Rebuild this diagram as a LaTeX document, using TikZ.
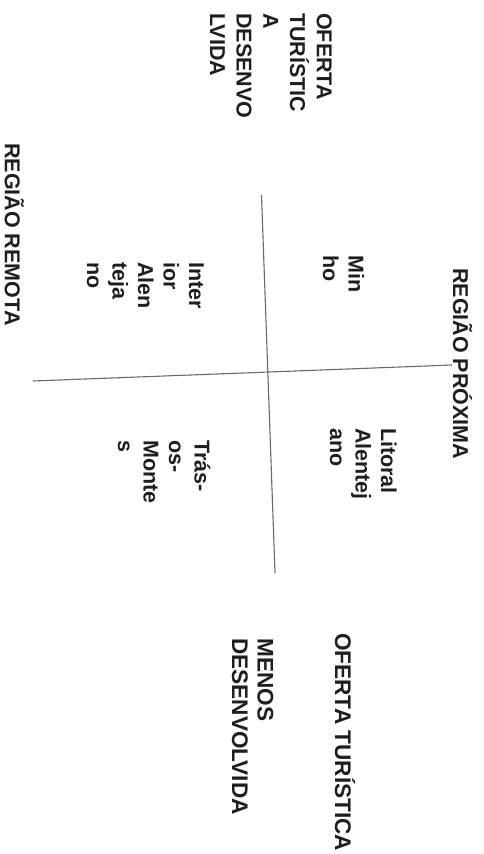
\documentclass[tikz,border=0pt]{standalone}
\usepackage{fontspec}
\setmainfont{Liberation Sans}
\definecolor{inkgray}{RGB}{30,30,30}
\definecolor{axisgray}{RGB}{105,105,105}
\usetikzlibrary{positioning}

\begin{document}
\begin{tikzpicture}[x=1pt, y=-1pt,
  quadtext/.style={rotate=-90, anchor=base west, inner sep=0pt, text=inkgray,
    font=\bfseries\fontsize{21.5}{25.5}\selectfont, align=left},
  axisline/.style={draw=axisgray, line width=1.1pt}]
  \useasboundingbox (0,0) rectangle (484,854);

  % axes of the matrix
  \coordinate (vtop) at (261.5,195);
  \coordinate (vbot) at (275,573);
  \coordinate (hleft) at (33,381);
  \coordinate (hright) at (452,365);
  \draw[axisline] (vtop) -- (vbot);
  \draw[axisline] (hleft) -- (hright);

  % pole titles (base = baseline of the last line)
  \node[quadtext] (proxima) at (453,268) {REGIÃO PRÓXIMA};
  \node[quadtext] (remota) at (5,143) {REGIÃO REMOTA};
  \node[quadtext, font=\bfseries\fontsize{22.6}{26}\selectfont] (oferta) at (335,633) {OFERTA TURÍSTICA};
  \node[quadtext, font=\bfseries\fontsize{21.5}{26.7}\selectfont] (desenv) at (210,13)
    {OFERTA\\TURÍSTIC\\A\\DESENVO\\LVIDA};
  \node[quadtext, font=\bfseries\fontsize{22.6}{25.5}\selectfont] (menos) at (232,638) {MENOS\\DESENVOLVIDA};

  % regions in the quadrants
  \node[quadtext] (minho) at (323,255) {Min\\ho};
  \node[quadtext] (litoral) at (330,428) {Litoral\\Alentej\\ano};
  \node[quadtext] (interior) at (87,262) {Inter\\ior\\Alen\\teja\\no};
  \node[quadtext] (tras) at (118,440) {Trás-\\os-\\Monte\\s};
\end{tikzpicture}
\end{document}
